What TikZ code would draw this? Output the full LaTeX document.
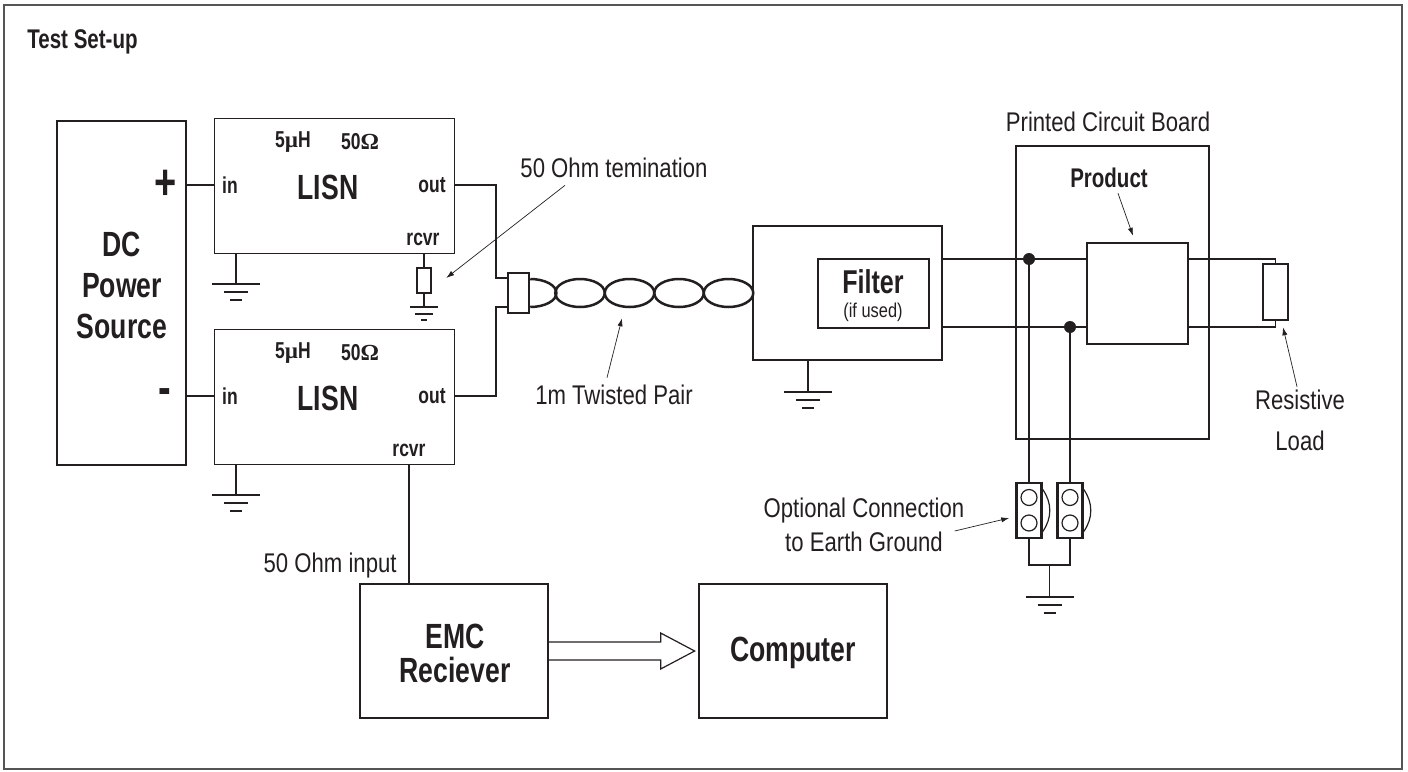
\documentclass[tikz,border=0pt]{standalone}
\usepackage{fontspec}
\setmainfont{Liberation Sans}[FakeStretch=0.82]
\newfontfamily\medfont{Liberation Sans}[FakeStretch=0.76]
\newfontfamily\symfont{Liberation Serif}
\usetikzlibrary{arrows.meta,shapes.geometric}
\definecolor{ink}{RGB}{35,31,32}
\definecolor{framegray}{RGB}{85,85,85}
\tikzset{
  box/.style={draw=ink, line width=0.65pt, inner sep=0pt},
  res/.style={draw=ink, line width=1.25pt, inner sep=0pt},
  wire/.style={draw=ink, line width=0.6pt},
  twist/.style={draw=ink, line width=1.25pt},
  twistloop/.style={ellipse, draw=ink, line width=1.25pt, inner sep=0pt, minimum width=24.75pt, minimum height=14pt},
  dot/.style={circle, fill=ink, inner sep=0pt, minimum size=6pt},
  pin/.style={circle, draw=ink, line width=0.6pt, inner sep=0pt, minimum size=8pt},
  ptr/.style={draw=ink, line width=0.35pt, -{Latex[length=4pt,width=2.6pt]}},
  biglbl/.style={font=\medfont\bfseries\fontsize{17.5}{17}\selectfont, text=ink, align=center, inner sep=0pt},
  midlbl/.style={font=\medfont\bfseries\fontsize{13.5}{16}\selectfont, text=ink, inner sep=0pt},
  tinylbl/.style={font=\medfont\bfseries\fontsize{11.5}{13}\selectfont, text=ink, inner sep=0pt},
  signlbl/.style={font=\medfont\bfseries\fontsize{25}{25}\selectfont, text=ink, inner sep=0pt},
  lightlbl/.style={font=\fontsize{13.5}{17}\selectfont, text=ink, align=center, inner sep=0pt},
  smalllbl/.style={font=\fontsize{10}{12}\selectfont, text=ink, inner sep=0pt},
  gnd/.pic={\draw[ink, line width=1.25pt] (-24,0) -- (24,0) (-12,8) -- (12,8) (-6,16) -- (6,16);},
  gnds/.pic={\draw[ink, line width=1.25pt] (-14,0) -- (14,0) (-9,7) -- (9,7) (-3,13) -- (3,13);}
}
\begin{document}
\begin{tikzpicture}[x=0.5pt,y=-0.5pt]
    \useasboundingbox (0,0) rectangle (1408,771);
    \draw[framegray, line width=1pt] (3.5,5) rectangle (1402,769);
    \node[midlbl, anchor=west] (title) at (27,42) {Test Set-up};

    % power source
    \node[box, minimum width=64.5pt, minimum height=172pt] (dc) at (121.5,293) {};
    \node[biglbl, font=\medfont\bfseries\fontsize{17.5}{20.5}\selectfont] (dclbl) at (122,285) {DC\\Power\\Source};
    \node[signlbl] (plus) at (166,185) {+};
    \node[signlbl] (minus) at (165,397) {-};

    % the two LISNs
    \foreach \nm/\ty/\rx in {A/118/423,B/329/409}{
        \node[box, anchor=north west, minimum width=120pt, minimum height=67.5pt] (lisn\nm) at (214,\ty) {};
        \node[tinylbl] (ind\nm) at (293,\ty+24) {5{\symfont µ}H};
        \node[tinylbl] (imp\nm) at (360,\ty+24) {50{\symfont Ω}};
        \node[biglbl] (name\nm) at (328,\ty+69) {LISN};
        \node[tinylbl] (in\nm) at (230,\ty+67) {in};
        \node[tinylbl] (out\nm) at (432,\ty+67) {out};
        \node[tinylbl] (rcvr\nm) at (\rx,\ty+121) {rcvr};
        \coordinate (gnd\nm) at (236,\ty+166);
        \draw[wire] (gnd\nm |- lisn\nm.south) -- (gnd\nm);
        \pic at (gnd\nm) {gnd};
        \draw[wire] (dc.east |- in\nm) -- (lisn\nm.west |- in\nm);
    }

    % termination
    \node[res, minimum width=7pt, minimum height=12.5pt] (term) at (424,280.5) {};
    \coordinate (termgnd) at (424,307);
    \draw[wire] (term.north |- lisnA.south) -- (term.north);
    \draw[wire] (term.south) -- (termgnd);
    \pic at (termgnd) {gnds};
    \node[lightlbl] (termlbl) at (614,168) {50 Ohm temination};
    \draw[ptr] ([xshift=-24.5pt,yshift=-3.5pt]termlbl.south) -- ([xshift=7pt,yshift=1.25pt]term.east);

    % connector and twisted pair
    \node[res, minimum width=10.5pt, minimum height=20pt] (conn) at (518.5,293) {};
    \coordinate (jogA) at (496,278);
    \coordinate (jogB) at (496,307);
    \draw[wire] (lisnA.east |- outA) -| (jogA) -- (conn.west |- jogA);
    \draw[wire] (lisnB.east |- outB) -| (jogB) -- (conn.west |- jogB);
    \draw[twist] ([yshift=7pt]conn.east) arc[start angle=90, end angle=-90, x radius=13.1pt, y radius=7pt];
    \foreach \i in {1,...,4}
        \node[twistloop] (tw\i) at (530.5+49.5*\i,293) {};
    \node[lightlbl] (tplbl) at (614,395) {1m Twisted Pair};
    \draw[ptr] ([xshift=-3.5pt,yshift=3.5pt]tplbl.north) -- ([xshift=-3.75pt,yshift=-5pt]tw2.south);

    % filter
    \node[box, minimum width=94.5pt, minimum height=67pt] (filt) at (847.5,293) {};
    \node[res, minimum width=55.5pt, minimum height=34.5pt] (filtin) at (873.5,293.5) {};
    \node[biglbl, font=\medfont\bfseries\fontsize{16.5}{17}\selectfont] (filtlbl) at (873,282) {Filter};
    \node[smalllbl] (usedlbl) at (873,312) {(if used)};
    \coordinate (filtgnd) at (808,392);
    \draw[wire] (filtgnd |- filt.south) -- (filtgnd);
    \pic at (filtgnd) {gnd};

    % board, product and load
    \node[box, minimum width=96.5pt, minimum height=146.5pt] (pcb) at (1112.5,292.5) {};
    \node[lightlbl] (pcblbl) at (1108,122) {Printed Circuit Board};
    \node[res, minimum width=50.5pt, minimum height=50.5pt] (prod) at (1137.5,293.5) {};
    \node[midlbl] (prodlbl) at (1109,178) {Product};
    \draw[ptr] ([xshift=4.5pt,yshift=-2.5pt]prodlbl.south) -- ([xshift=-2.25pt,yshift=3pt]prod.north);
    \node[dot] (jA) at (1029,259) {};
    \node[dot] (jB) at (1070,327) {};
    \draw[wire] (filt.east |- jA) -- (prod.west |- jA);
    \draw[wire] (filt.east |- jB) -- (prod.west |- jB);
    \node[res, minimum width=12.5pt, minimum height=28pt] (load) at (1275.5,292) {};
    \draw[wire] (prod.east |- jA) -| (load.north);
    \draw[wire] (prod.east |- jB) -| (load.south);
    \node[lightlbl, font=\fontsize{13.5}{20.5}\selectfont] (loadlbl) at (1300,420.5) {Resistive\\Load};
    \draw[ptr] ([xshift=-1.5pt,yshift=1.5pt]loadlbl.north) -- ([xshift=3.75pt,yshift=-3pt]load.south);

    % earth jumpers
    \foreach \nm/\xx in {A/1029,B/1070}{
        \node[res, minimum width=12.5pt, minimum height=27.5pt] (jmp\nm) at (\xx,510.5) {};
        \node[pin] (pinu\nm) at (\xx,497.5) {};
        \node[pin] (pind\nm) at (\xx,523) {};
        \draw[wire] ([yshift=10.5pt]jmp\nm.east) to[bend left=35] ([yshift=-10.5pt]jmp\nm.east);
        \draw[wire] (j\nm) -- (jmp\nm.north);
    }
    \coordinate (ejoin) at (1049.5,565);
    \coordinate (egnd) at (1049.5,597);
    \draw[wire] (jmpA.south) |- (ejoin) -| (jmpB.south);
    \draw[wire] (ejoin) -- (egnd);
    \pic at (egnd) {gnd};
    \node[lightlbl] (optlbl) at (864,525) {Optional Connection\\to Earth Ground};
    \draw[ptr] ([xshift=-5pt,yshift=-3pt]optlbl.east) -- ([xshift=-3pt,yshift=-3.75pt]jmpA.west);

    % receiver and computer
    \node[box, minimum width=94pt, minimum height=67pt] (emc) at (454,651) {};
    \node[biglbl] (emclbl) at (455,653) {EMC\\Reciever};
    \node[box, minimum width=94pt, minimum height=67pt] (pc) at (793,651) {};
    \node[biglbl] (pclbl) at (793,653) {Computer};
    \draw[wire] (rcvrB |- lisnB.south) -- (rcvrB |- emc.north);
    \node[lightlbl, anchor=east] (inplbl) at (397,566) {50 Ohm input};
    \draw[wire] ([yshift=4.5pt]emc.east) -- ++(112,0) -- ++(0,-9) -- ++(34,18) -- ++(-34,18) -- ++(0,-9) -- ++(-112,0);
\end{tikzpicture}
\end{document}
